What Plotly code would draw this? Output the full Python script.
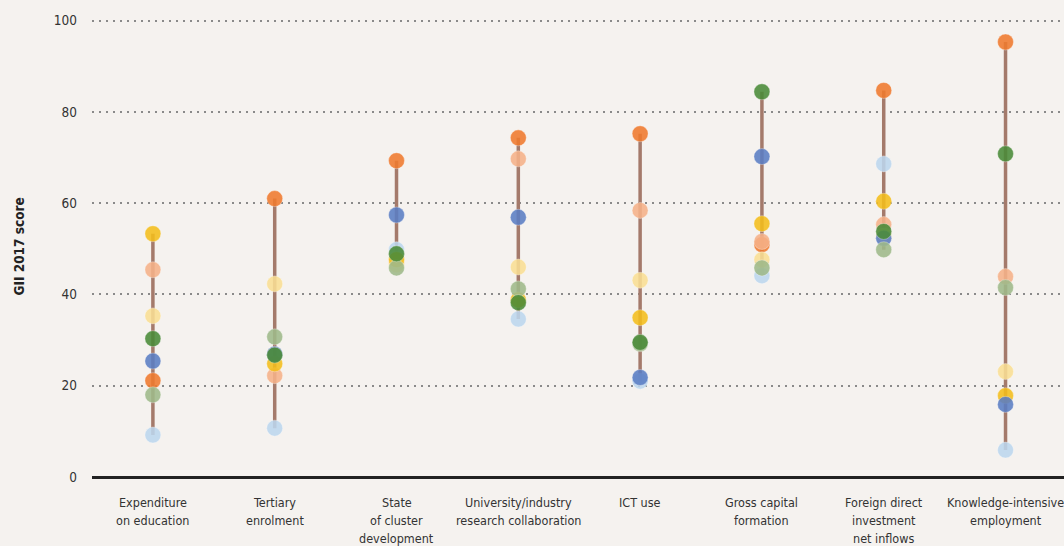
import plotly.graph_objects as go

categories = [
    "Expenditure<br>on education",
    "Tertiary<br>enrolment",
    "State<br>of cluster<br>development",
    "University/industry<br>research collaboration",
    "ICT use",
    "Gross capital<br>formation",
    "Foreign direct<br>investment<br>net inflows",
    "Knowledge-intensive<br>employment",
]

light_blue = [9.2, 10.7, 49.8, 34.6, 21.0, 44.1, 68.6, 5.9]
orange = [21.1, 61.0, 69.3, 74.3, 75.2, 50.9, 84.7, 95.3]
salmon = [45.4, 22.2, 47.0, 69.7, 58.4, 51.6, 55.3, 43.9]
light_yellow = [35.3, 42.3, 46.5, 46.0, 43.1, 47.6, 52.8, 23.1]
gold = [53.3, 24.8, 47.6, 38.8, 34.9, 55.5, 60.4, 17.8]
blue = [25.4, 26.9, 57.4, 56.9, 21.8, 70.2, 52.3, 15.9]
green = [30.3, 26.7, 48.9, 38.2, 29.5, 84.4, 53.8, 70.8]
sage = [18.0, 30.7, 45.8, 41.2, 29.2, 45.8, 49.8, 41.5]

series = [
    ("Economy A", light_blue, "#BDD7EE"),
    ("Economy B", orange, "#F07A2E"),
    ("Economy C", salmon, "#F6B289"),
    ("Economy D", light_yellow, "#FADF94"),
    ("Economy E", gold, "#F4BE1C"),
    ("Economy F", blue, "#5B7EC4"),
    ("Economy H", sage, "#9FBA8A"),
    ("Economy G", green, "#4A8B38"),
]

fig = go.Figure()

# range lines from min to max per category
lx, ly = [], []
for i, c in enumerate(categories):
    vals = [s[1][i] for s in series]
    lx += [c, c, None]
    ly += [min(vals), max(vals), None]
fig.add_trace(go.Scatter(x=lx, y=ly, mode="lines",
                         line=dict(color="#A47A6B", width=3.5),
                         showlegend=False, hoverinfo="skip"))

for name, vals, col in series:
    fig.add_trace(go.Scatter(
        x=categories, y=vals, mode="markers", name=name,
        marker=dict(size=16, color=col, opacity=0.88,
                    line=dict(width=0.6, color="rgba(255,255,255,0.6)")),
        showlegend=False))

font_main = "DejaVu Sans Condensed, Liberation Sans Narrow, sans-serif"

# category labels as annotations (one per line, for wider line spacing)
annotations = []
for c in categories:
    for k, line in enumerate(c.split("<br>")):
        annotations.append(dict(
            text=line, x=c, xref="x", y=0, yref="paper",
            xanchor="center", yanchor="middle", yshift=-(25 + 18 * k),
            showarrow=False,
            font=dict(family=font_main, size=12.5, color="#333333")))

annotations.append(dict(
    text="<b>GII 2017 score</b>", xref="paper", yref="paper",
    x=-74 / 972, y=0.5, xanchor="center", yanchor="middle",
    textangle=-90, showarrow=False,
    font=dict(family=font_main, size=13.5, color="#222222"),
))

fig.update_layout(
    width=1064, height=546,
    margin=dict(l=92, r=0, t=16, b=69),
    paper_bgcolor="#F5F2EF",
    plot_bgcolor="#F5F2EF",
    font=dict(family=font_main, size=12.5, color="#333333"),
    xaxis=dict(
        type="category",
        categoryorder="array", categoryarray=categories,
        range=[-0.5, 7.48],
        showgrid=False, zeroline=False, showline=False,
        ticks="", showticklabels=False,
        fixedrange=True,
    ),
    yaxis=dict(
        range=[0, 101],
        tickvals=[0, 20, 40, 60, 80, 100],
        showgrid=True, gridcolor="#8a8a8a", gridwidth=1.5, griddash="2px,5px",
        zeroline=True, zerolinecolor="#222222", zerolinewidth=3,
        showline=False, ticks="", ticklabelstandoff=14,
        tickfont=dict(size=13.5, color="#333333"),
        fixedrange=True,
    ),
    annotations=annotations,
)

fig.write_html("out.html", config={"displayModeBar": False},
               post_script="document.body.style.margin='0';document.body.style.overflow='hidden';")
